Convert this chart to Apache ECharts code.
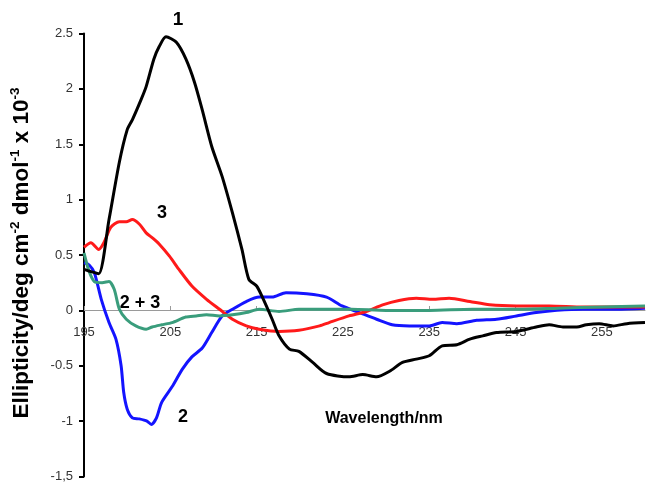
<!DOCTYPE html>
<html><head><meta charset="utf-8">
<script src="https://cdn.jsdelivr.net/npm/echarts@6/dist/echarts.min.js"></script>
<style>html,body{margin:0;padding:0;background:#fff}#c{width:646px;height:483px}</style>
</head><body><div id="c"></div>
<script>
// Curve 1 (black)
const wl1 = [195.0,195.8,196.7,197.9,199.1,200.0,200.6,201.6,202.2,203.1,203.7,204.5,205.7,206.8,207.8,208.7,209.8,211.0,212.2,213.3,214.1,215.0,215.6,216.8,217.6,218.8,219.9,221.5,223.1,225.7,227.3,228.9,230.4,231.9,233.5,235.0,236.5,238.2,239.7,241.2,242.8,245.1,247.4,248.9,250.5,252.1,253.2,254.7,256.3,257.9,260.0];
const cd1 = [0.37,0.35,0.33,0.82,1.34,1.63,1.72,1.90,2.02,2.27,2.38,2.47,2.42,2.27,2.06,1.81,1.48,1.21,0.88,0.55,0.28,0.22,0.13,-0.08,-0.23,-0.35,-0.37,-0.47,-0.57,-0.60,-0.58,-0.60,-0.55,-0.47,-0.44,-0.41,-0.32,-0.31,-0.26,-0.23,-0.20,-0.19,-0.15,-0.13,-0.15,-0.15,-0.13,-0.12,-0.14,-0.12,-0.11];
// Curve 2 (blue)
const wl2 = [195.0,195.6,196.2,197.0,197.9,198.7,199.3,199.6,200.0,200.6,201.4,202.3,202.8,203.4,204.0,205.2,206.4,207.5,208.7,209.8,211.0,212.2,213.8,215.3,216.8,218.4,220.8,223.1,224.9,226.9,228.9,230.7,232.7,235.0,236.5,238.2,240.5,242.8,245.1,247.4,249.8,252.8,256.7,260.0];
const cd2 = [0.43,0.41,0.34,0.10,-0.11,-0.26,-0.50,-0.74,-0.89,-0.97,-0.98,-1.00,-1.03,-0.97,-0.83,-0.69,-0.53,-0.42,-0.34,-0.20,-0.05,0.01,0.08,0.12,0.12,0.16,0.15,0.12,0.04,-0.02,-0.08,-0.13,-0.14,-0.14,-0.11,-0.12,-0.09,-0.08,-0.05,-0.02,0.00,0.01,0.01,0.02];
// Curve 3 (red)
const wl3 = [195.0,195.8,196.7,197.3,198.1,199.1,199.9,200.6,201.4,202.2,203.0,203.7,204.9,206.0,207.5,209.2,210.7,212.2,213.8,215.3,217.6,219.9,222.3,223.4,225.7,227.7,229.6,231.5,233.5,235.4,237.3,239.7,242.0,245.1,248.9,252.8,256.5,260.0];
const cd3 = [0.57,0.61,0.55,0.61,0.75,0.80,0.80,0.82,0.78,0.70,0.65,0.60,0.49,0.37,0.22,0.10,0.01,-0.08,-0.14,-0.17,-0.19,-0.18,-0.14,-0.11,-0.05,-0.01,0.05,0.09,0.11,0.10,0.11,0.08,0.05,0.04,0.04,0.03,0.03,0.03];
// Curve 2 + 3 (green)
const wl23 = [195.0,195.6,196.2,197.1,197.9,198.5,199.1,199.9,201.0,202.2,202.9,204.0,205.2,206.8,208.0,209.2,210.7,212.2,213.8,215.3,217.6,219.9,222.3,226.0,230.0,235.0,240.0,245.0,250.0,255.0,260.0];
const cd23 = [0.52,0.35,0.26,0.25,0.26,0.19,0.01,-0.08,-0.14,-0.17,-0.15,-0.13,-0.11,-0.06,-0.05,-0.04,-0.05,-0.04,-0.02,0.01,-0.01,0.01,0.01,0.01,0.00,0.00,0.01,0.01,0.02,0.03,0.04];

const xTickValues = [195,205,215,225,235,245,255];
const yTickLabels = ['-1,5','-1','-0.5','0','0.5','1','1.5','2','2.5'];
const seriesNames = ['2','3','2 + 3','1'];

const FONT = 'Liberation Sans, Arial, sans-serif';
const zip = (a, b) => a.map((x, i) => [x, b[i]]);

const GRID = {left: 84, right: 1, top: 33.5, bottom: 5.5};
const Y_MIN = -1.5, Y_MAX = 2.5;
const plotH = 483 - GRID.top - GRID.bottom;
// distance from bottom edge of plot to the y = 0 line
const zeroOffset = plotH * (0 - Y_MIN) / (Y_MAX - Y_MIN);

const chart = echarts.init(document.getElementById('c'), null, {renderer: 'canvas'});
const lineS = (name, wl, cd, color) => ({
  name, type: 'line', data: zip(wl, cd), showSymbol: false, smooth: 0.25,
  lineStyle: {color, width: 3}, itemStyle: {color}, animation: false, z: 3
});

chart.setOption({
  animation: false,
  backgroundColor: '#fff',
  grid: Object.assign({containLabel: false}, GRID),
  xAxis: {
    type: 'value', min: 195, max: 260, interval: 10, position: 'bottom', offset: -zeroOffset,
    axisLine: {onZero: false, lineStyle: {color: '#9a9a9a', width: 1}},
    axisTick: {show: true, inside: true, length: 4, lineStyle: {color: '#9a9a9a'}},
    axisLabel: {show: true, margin: 16, color: '#333', fontSize: 13, fontFamily: FONT, showMinLabel: true, showMaxLabel: false,
      formatter: v => (xTickValues.indexOf(Math.round(v)) >= 0 ? String(Math.round(v)) : '')},
    splitLine: {show: false}
  },
  yAxis: {
    type: 'value', min: Y_MIN, max: Y_MAX, interval: 0.5,
    axisLine: {show: true, onZero: false, lineStyle: {color: '#000', width: 2}},
    axisTick: {show: true, length: 5, lineStyle: {color: '#000', width: 2}},
    axisLabel: {margin: 11, color: '#333', fontSize: 13, fontFamily: FONT,
      formatter: v => yTickLabels[Math.round((v - Y_MIN) / 0.5)]},
    splitLine: {show: false}
  },
  series: [
    lineS(seriesNames[0], wl2, cd2, '#1414ff'),
    lineS(seriesNames[1], wl3, cd3, '#ff1a1a'),
    lineS(seriesNames[2], wl23, cd23, '#3a9d7c'),
    lineS(seriesNames[3], wl1, cd1, '#000000')
  ],
  graphic: [
    {type: 'text', x: 22, y: 253, rotation: Math.PI / 2,
      style: {text: 'Ellipticity/deg cm{s|-2} dmol{s|-1} x 10{s|-3}', font: 'bold 22.5px ' + FONT,
        fill: '#000', align: 'center', verticalAlign: 'middle', lineHeight: 27,
        rich: {s: {fontSize: 13.5, fontWeight: 'bold', fontFamily: FONT, verticalAlign: 'top', lineHeight: 15, fill: '#000'}}}},
    {type: 'text', x: 384, y: 419, style: {text: 'Wavelength/nm', font: 'bold 16px ' + FONT, fill: '#000', align: 'center', verticalAlign: 'middle'}},
    {type: 'text', x: 178, y: 20, style: {text: seriesNames[3], font: 'bold 19px ' + FONT, fill: '#000', align: 'center', verticalAlign: 'middle'}},
    {type: 'text', x: 162, y: 213, style: {text: seriesNames[1], font: 'bold 18px ' + FONT, fill: '#000', align: 'center', verticalAlign: 'middle'}},
    {type: 'text', x: 140, y: 303, style: {text: seriesNames[2], font: 'bold 18px ' + FONT, fill: '#000', align: 'center', verticalAlign: 'middle'}},
    {type: 'text', x: 183, y: 417, style: {text: seriesNames[0], font: 'bold 18px ' + FONT, fill: '#000', align: 'center', verticalAlign: 'middle'}}
  ]
});
</script></body></html>
